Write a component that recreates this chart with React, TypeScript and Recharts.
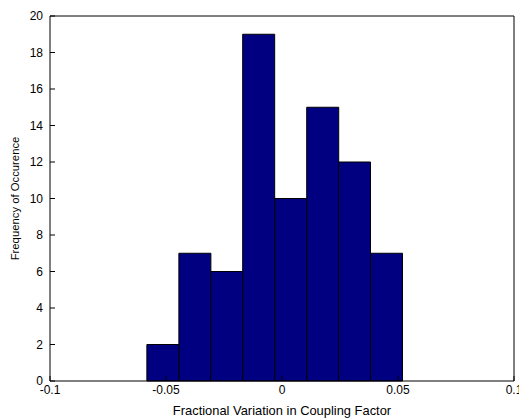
import React from 'react';
import { ComposedChart, Bar, XAxis, YAxis, Label } from 'recharts';

const binCenters = [-0.0514, -0.0376, -0.0239, -0.0101, 0.0037, 0.0175, 0.0312, 0.045];
const counts = [2, 7, 6, 19, 10, 15, 12, 7];
const xTicks = [-0.1, -0.05, 0, 0.05, 0.1];
const yTicks = [0, 2, 4, 6, 8, 10, 12, 14, 16, 18, 20];

const data = binCenters.map((x, i) => ({ x, count: counts[i] }));

const family = 'Arial, "Liberation Sans", sans-serif';
const tickFont = { fontFamily: family, fontSize: 12, fill: '#000' };

export default function App() {
  return (
    <div style={{ position: 'absolute', left: 0, top: 0, background: '#fff' }}>
      <ComposedChart
        width={519}
        height={418}
        data={data}
        margin={{ top: 0, right: 0, left: 0, bottom: 0 }}
        barCategoryGap={0}
        barGap={0}
      >
        <XAxis
          xAxisId="b"
          dataKey="x"
          type="number"
          domain={[-0.1, 0.1]}
          ticks={xTicks}
          tickFormatter={(v: number) => String(v)}
          allowDataOverflow
          height={37}
          tickSize={-5}
          tickMargin={9}
          tick={tickFont}
          stroke="#000"
          interval={0}
        >
          <Label
            value="Fractional Variation in Coupling Factor"
            position="insideBottom"
            offset={3}
            style={{ fontFamily: family, fontSize: 12.9, fill: '#000' }}
          />
        </XAxis>
        <XAxis
          xAxisId="t"
          orientation="top"
          dataKey="x"
          type="number"
          domain={[-0.1, 0.1]}
          ticks={xTicks}
          allowDataOverflow
          height={16}
          tickSize={-5}
          tick={false}
          stroke="#000"
        />
        <YAxis
          yAxisId="l"
          type="number"
          domain={[0, 20]}
          ticks={yTicks}
          width={50}
          tickSize={-5}
          tickMargin={12}
          tick={tickFont}
          stroke="#000"
          interval={0}
        >
          <Label
            value="Frequency of Occurence"
            angle={-90}
            position="insideLeft"
            offset={15}
            style={{ fontFamily: family, fontSize: 11.3, fill: '#000', textAnchor: 'middle' }}
          />
        </YAxis>
        <YAxis
          yAxisId="r"
          orientation="right"
          type="number"
          domain={[0, 20]}
          ticks={yTicks}
          width={5}
          tickSize={-5}
          tick={false}
          stroke="#000"
        />
        <Bar
          xAxisId="b"
          yAxisId="l"
          dataKey="count"
          fill="#000080"
          stroke="#000"
          strokeWidth={1}
          isAnimationActive={false}
        />
      </ComposedChart>
    </div>
  );
}
